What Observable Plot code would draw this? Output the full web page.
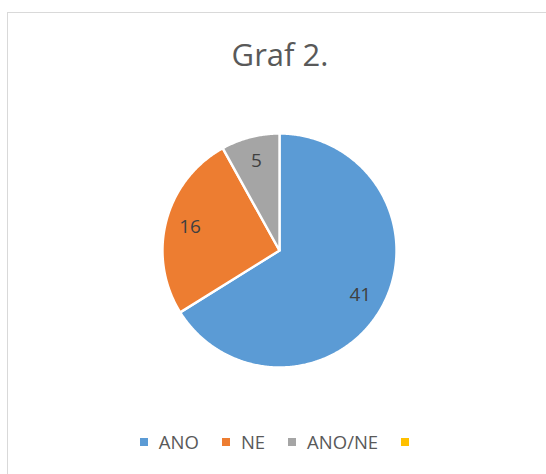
<!DOCTYPE html>
<html><head><meta charset="utf-8">
<script src="https://cdn.jsdelivr.net/npm/d3@7"></script>
<script src="https://cdn.jsdelivr.net/npm/@observablehq/plot@0.6"></script>
<style>
body{margin:0;background:#fff;font-family:"Open Sans",sans-serif;}
#frame{position:absolute;left:7px;top:12px;width:546px;height:470px;border:1px solid #d9d9d9;box-sizing:border-box;}
#title{position:absolute;left:0;right:0;top:26px;text-align:center;font-size:31px;line-height:30px;color:#595959;}
#chart{position:absolute;left:-1px;top:107px;}
#legend{position:absolute;left:0;right:0;top:412px;display:flex;justify-content:center;}
.lg-swatches{margin:0 !important;}
.lg-swatch{margin-right:23px !important;}
.lg-swatch:last-child{margin-right:0 !important;}
.lg-swatch svg{margin-right:11px !important;}
</style></head><body>
<div id="frame"><div id="title">Graf 2.</div><div id="chart"></div><div id="legend"></div></div>
<script>
const categories = ["ANO", "NE", "ANO/NE", ""];
const values = [41, 16, 5, 0];
const colors = ["#5B9BD5", "#ED7D31", "#A5A5A5", "#FFC000"];

const W = 544, H = 260, R = 117;
const arcs = d3.pie().sort(null).value((d, i) => values[i])(categories);

const pts = [];
const labels = [];
arcs.forEach((a, i) => {
  if (values[i] <= 0) return;
  const cat = categories[i];
  pts.push({cat, x: 0, y: 0});
  const n = Math.max(2, Math.ceil((a.endAngle - a.startAngle) / 0.01));
  for (let k = 0; k <= n; k++) {
    const t = a.startAngle + (a.endAngle - a.startAngle) * k / n;
    pts.push({cat, x: Math.sin(t), y: Math.cos(t)});
  }
  pts.push({cat, x: 0, y: 0});
  const m = (a.startAngle + a.endAngle) / 2;
  labels.push({cat, v: values[i], x: 0.79 * Math.sin(m), y: 0.79 * Math.cos(m)});
});

const colorScale = {type: "ordinal", domain: categories, range: colors};

const plot = Plot.plot({
  width: W, height: H,
  margin: 0,
  x: {domain: [-(W / 2) / R, (W / 2) / R], axis: null},
  y: {domain: [-(H / 2) / R, (H / 2) / R], axis: null},
  color: colorScale,
  marks: [
    Plot.line(pts, {x: "x", y: "y", z: "cat", fill: "cat", stroke: "white", strokeWidth: 2.4, strokeLinejoin: "miter", strokeMiterlimit: 4, curve: "linear"}),
    Plot.text(labels, {x: "x", y: "y", text: "v", fontSize: 19, fontFamily: "Open Sans", fill: "#404040"})
  ]
});
document.getElementById("chart").appendChild(plot);

const legend = Plot.legend({
  color: colorScale,
  className: "lg",
  swatchWidth: 8, swatchHeight: 8,
  style: {fontSize: "18.5px", fontFamily: "Open Sans", color: "#595959"}
});
document.getElementById("legend").appendChild(legend);
</script>
</body></html>
